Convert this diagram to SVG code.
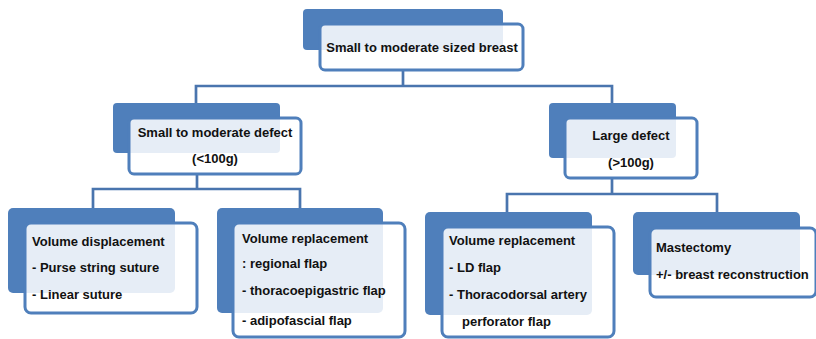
<svg xmlns="http://www.w3.org/2000/svg" width="816" height="339" viewBox="0 0 816 339">
<style>
.back{fill:#4f7fbb;}
.front{fill:#ffffff;fill-opacity:0.86;stroke:#4f7fbb;stroke-width:3;}
.t{font-family:"Liberation Sans",Arial,sans-serif;font-weight:bold;font-size:13px;fill:#111;}
.c{text-anchor:middle;}
.conn{fill:none;stroke:#4a75ae;stroke-width:2.7;}
</style>
<rect width="816" height="339" fill="#ffffff"/>
<g id="connectors">
<path class="conn" d="M403,71 V86 M196,104 V86 H612 V104"/>
<path class="conn" d="M197,175 V189 M93,208 V189 H300 V208"/>
<path class="conn" d="M612,179 V194 M507,212 V194 H717 V212"/>
</g>
<g id="node-top">
<rect class="back" x="303" y="9" width="200" height="41" rx="4"/>
<rect class="front" x="320" y="24" width="203" height="46" rx="5"/>
<text class="t c" x="422" y="52">Small to moderate sized breast</text>
</g>
<g id="node-small-defect">
<rect class="back" x="113" y="103" width="167" height="50" rx="4"/>
<rect class="front" x="129" y="118" width="172" height="56" rx="5"/>
<text class="t c" x="215" y="137">Small to moderate defect</text>
<text class="t c" x="215" y="163">(&lt;100g)</text>
</g>
<g id="node-large-defect">
<rect class="back" x="549" y="103" width="127" height="55" rx="4"/>
<rect class="front" x="565" y="118" width="132" height="60" rx="5"/>
<text class="t c" x="631" y="140">Large defect</text>
<text class="t c" x="631" y="167">(&gt;100g)</text>
</g>
<g id="node-volume-displacement">
<rect class="back" x="8" y="208" width="167" height="85" rx="5"/>
<rect class="front" x="25" y="223" width="172" height="90" rx="6"/>
<text class="t" x="32" y="246">Volume displacement</text>
<text class="t" x="32" y="272">- Purse string suture</text>
<text class="t" x="32" y="299">- Linear suture</text>
</g>
<g id="node-volume-replacement-regional">
<rect class="back" x="217" y="208" width="166" height="105" rx="5"/>
<rect class="front" x="233" y="223" width="172" height="114" rx="6"/>
<text class="t" x="242" y="243">Volume replacement</text>
<text class="t" x="242" y="268">: regional flap</text>
<text class="t" x="242" y="295">- thoracoepigastric flap</text>
<text class="t" x="242" y="325">- adipofascial flap</text>
</g>
<g id="node-volume-replacement-ld">
<rect class="back" x="425" y="212" width="167" height="103" rx="5"/>
<rect class="front" x="442" y="227" width="172" height="110" rx="6"/>
<text class="t" x="449" y="245">Volume replacement</text>
<text class="t" x="449" y="272">- LD flap</text>
<text class="t" x="449" y="299">- Thoracodorsal artery</text>
<text class="t" x="462" y="326">perforator flap</text>
</g>
<g id="node-mastectomy">
<rect class="back" x="633" y="212" width="167" height="63" rx="5"/>
<rect class="front" x="650" y="228" width="166" height="69" rx="6"/>
<text class="t" x="656" y="252">Mastectomy</text>
<text class="t" x="656" y="279">+/- breast reconstruction</text>
</g>
</svg>
